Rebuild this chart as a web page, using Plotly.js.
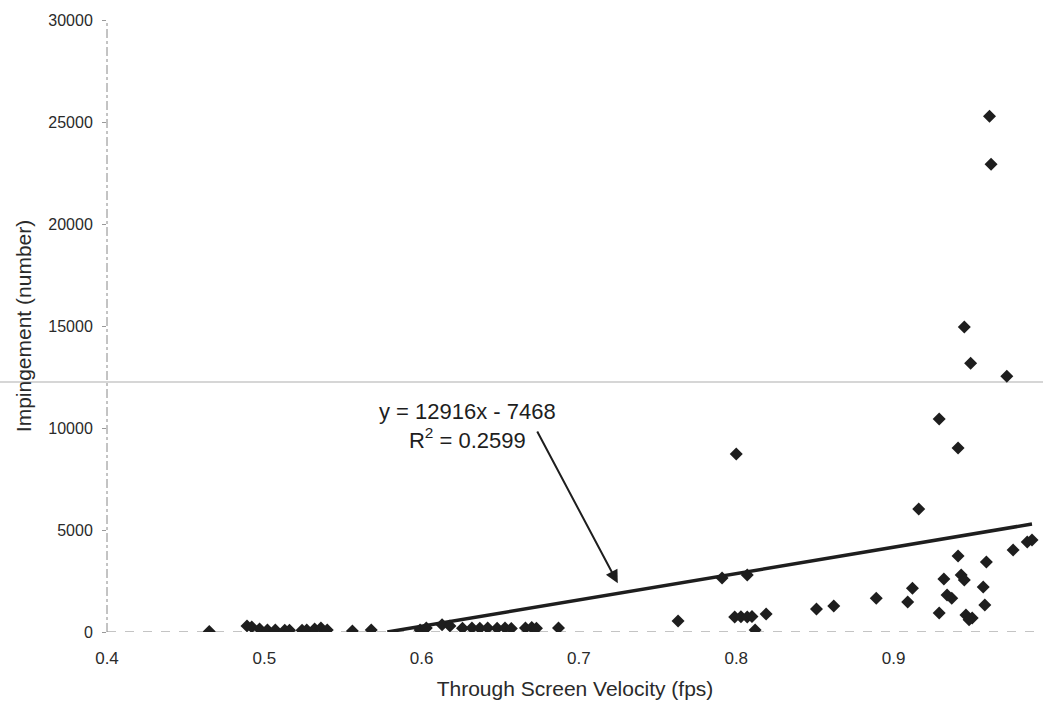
<!DOCTYPE html>
<html>
<head>
<meta charset="utf-8">
<script src="https://cdn.plot.ly/plotly-3.0.1.min.js"></script>
<style>
  html, body { margin: 0; padding: 0; background: #fff; }
  #chart { width: 1043px; height: 706px; }
</style>
</head>
<body>
<div id="chart"></div>
<script>
// Through-screen velocity (fps) for each sample
const velocity = [
  0.465, 0.489, 0.492, 0.497, 0.502, 0.507, 0.513, 0.516, 0.524, 0.527,
  0.532, 0.536, 0.540, 0.556, 0.568, 0.599, 0.603, 0.613, 0.618, 0.626,
  0.632, 0.637, 0.642, 0.648, 0.653, 0.657, 0.666, 0.670, 0.673, 0.687,
  0.763, 0.791, 0.807, 0.799, 0.803, 0.807, 0.810, 0.812, 0.819, 0.800,
  0.851, 0.862, 0.889, 0.909, 0.912, 0.916, 0.929, 0.929, 0.932, 0.934,
  0.937, 0.941, 0.941, 0.943, 0.945, 0.945, 0.946, 0.949, 0.950, 0.948,
  0.957, 0.958, 0.959, 0.961, 0.962, 0.972, 0.976, 0.985, 0.988
];

// Impingement count for each sample
const impingement = [
  30, 300, 250, 150, 100, 100, 80, 80, 80, 100,
  150, 200, 100, 50, 100, 100, 200, 350, 300, 180,
  200, 180, 200, 180, 200, 170, 200, 220, 180, 200,
  540, 2650, 2800, 730, 750, 740, 760, 100, 880, 8720,
  1130, 1270, 1660, 1470, 2150, 6030, 930, 10440, 2600, 1810,
  1660, 3720, 9020, 2800, 2550, 14950, 830, 13180, 690, 600,
  2200, 1320, 3430, 25280, 22930, 12540, 4020, 4410, 4510
];

// Linear fit reported on the chart
const fitSlope = 12916;
const fitIntercept = -7468;
const fitR2 = 0.2599;

const xTicks = [0.4, 0.5, 0.6, 0.7, 0.8, 0.9];
const xTickText = ['0.4', '0.5', '0.6', '0.7', '0.8', '0.9'];
const yTicks = [0, 5000, 10000, 15000, 20000, 25000, 30000];
const yTickText = ['0', '5000', '10000', '15000', '20000', '25000', '30000'];

// Fit line drawn from where it crosses zero up to the largest velocity
const fitStart = -fitIntercept / fitSlope;
const fitEnd = Math.max(...velocity);
const fitX = [fitStart, fitEnd];
const fitY = fitX.map(v => fitSlope * v + fitIntercept);

const textColor = '#2a2a2a';
const font = 'Liberation Sans, Arial, sans-serif';

const traces = [
  {
    x: fitX, y: fitY,
    mode: 'lines', type: 'scatter',
    line: { color: '#1e1e1e', width: 3.5 },
    hoverinfo: 'skip', showlegend: false
  },
  {
    x: velocity, y: impingement,
    mode: 'markers', type: 'scatter',
    marker: { symbol: 'diamond', size: 10, color: '#1e1e1e' },
    showlegend: false
  }
];

// Arrow pointing from the equation text to the fit line
const arrowTipX = 0.7247;
const arrowTipY = fitSlope * arrowTipX + fitIntercept + 500;

const layout = {
  width: 1043, height: 706,
  margin: { l: 107, r: 0, t: 20, b: 74 },
  paper_bgcolor: '#fff', plot_bgcolor: '#fff',
  font: { family: font, color: textColor, size: 16 },
  showlegend: false,
  xaxis: {
    range: [0.4, 0.995],
    tickvals: xTicks, ticktext: xTickText,
    showgrid: false, zeroline: false, showline: false,
    ticks: '', ticklabelstandoff: 14,
    tickfont: { size: 17, color: textColor },
    title: { text: 'Through Screen Velocity (fps)', font: { size: 21, color: textColor }, standoff: 14 }
  },
  yaxis: {
    range: [0, 30000],
    tickvals: yTicks, ticktext: yTickText,
    showgrid: false, zeroline: false, showline: false,
    ticks: 'outside', ticklen: 4, tickcolor: '#999', tickwidth: 1,
    ticklabelstandoff: 6,
    tickfont: { size: 16, color: textColor },
    title: { text: 'Impingement (number)', font: { size: 21, color: textColor }, standoff: 10 }
  },
  shapes: [
    // faint horizontal streak across the page
    { type: 'line', xref: 'paper', yref: 'y', x0: -0.12, x1: 1.0, y0: 12250, y1: 12250,
      line: { color: '#d6d6d6', width: 2 }, layer: 'below' },
    // y axis line
    { type: 'line', xref: 'paper', yref: 'paper', x0: 0, x1: 0, y0: 0, y1: 1,
      line: { color: '#888', width: 1, dash: 'dashdot' } },
    // x axis line
    { type: 'line', xref: 'paper', yref: 'y', x0: 0, x1: 1, y0: 0, y1: 0,
      line: { color: '#888', width: 1, dash: 'dash' }, layer: 'below' }
  ],
  annotations: [
    {
      x: 0.629, y: 10100, xref: 'x', yref: 'y',
      text: 'y = ' + fitSlope + 'x - ' + (-fitIntercept) + '<br>R<sup>2</sup> = ' + fitR2,
      showarrow: false, align: 'center',
      font: { size: 22, color: '#1e1e1e', family: font }
    },
    {
      x: arrowTipX, y: arrowTipY, xref: 'x', yref: 'y',
      ax: 0.673, ay: 9900, axref: 'x', ayref: 'y',
      text: '', showarrow: true,
      arrowhead: 2, arrowsize: 1.3, arrowwidth: 2, arrowcolor: '#1e1e1e'
    }
  ]
};

Plotly.newPlot('chart', traces, layout, { staticPlot: true, displayModeBar: false });
</script>
</body>
</html>
